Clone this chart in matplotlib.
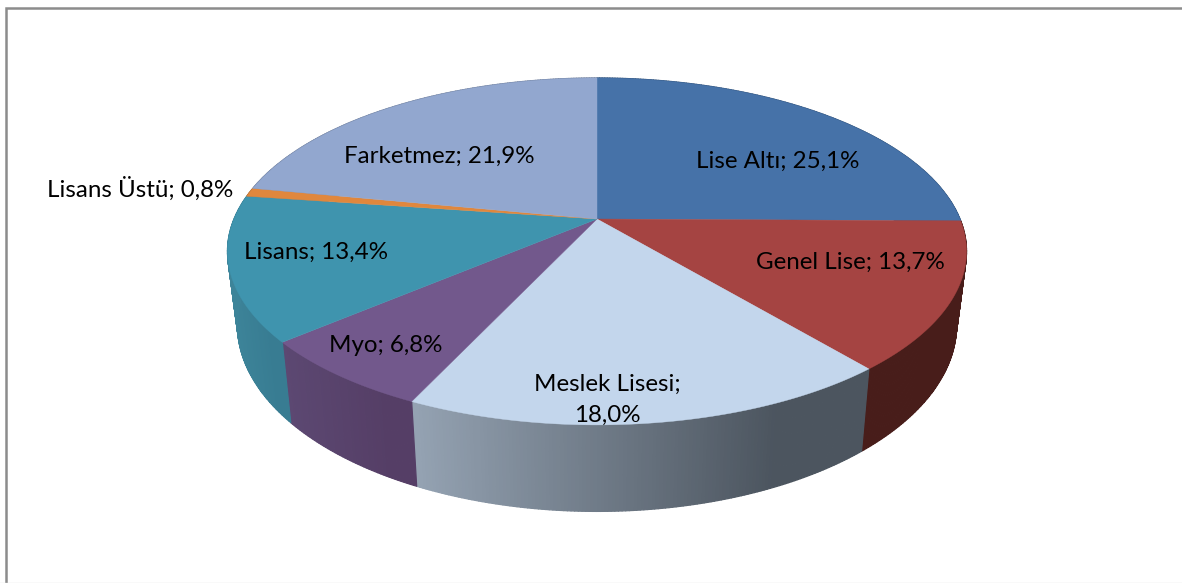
# -*- coding: utf-8 -*-
# 3D looking pie chart: top face and rim are projected with a small perspective
import numpy as np
import matplotlib
matplotlib.use('Agg')
import matplotlib.pyplot as plt
from matplotlib.collections import PolyCollection
from matplotlib.colors import to_rgb

categories = ['Lise Altı', 'Genel Lise', 'Meslek Lisesi', 'Myo', 'Lisans', 'Lisans Üstü', 'Farketmez']
values = [25.1, 13.7, 18.0, 6.8, 13.4, 0.8, 21.9]
labels = ['Lise Altı; 25,1%', 'Genel Lise; 13,7%', 'Meslek Lisesi;\n18,0%', 'Myo; 6,8%',
          'Lisans; 13,4%', 'Lisans Üstü; 0,8%', 'Farketmez; 21,9%']
top_colors = ['#4672a8', '#a54442', '#c3d6ec', '#72588c', '#3f94ae', '#e0873d', '#92a7cf']
side_left = ['#34557d', '#481d1a', '#95a3b3', '#5c4872', '#3d8499', '#a8652d', '#6d7d9b']
side_right = ['#34557d', '#481d1a', '#4c555f', '#553e66', '#387c92', '#a8652d', '#6d7d9b']
label_x = [778, 850, 607, 386, 316, 140, 439]
label_y = [161, 262, 400, 346, 252, 189, 156]

# projection settings, in pixels
cx, cy = 597, 219
rx, ry = 363, 167.4
persp = 0.187
shrink = 0.973
low_cy, low_ry = 290, 180


def project(t, lower=False):
    u, v = np.sin(t), np.cos(t)
    w = 1 + persp*v
    if lower:
        return cx + rx*shrink*u/w, low_cy - low_ry*v/w
    return cx + rx*u/w, cy - ry*v/w


fig = plt.figure(figsize=(11.82, 5.83), dpi=100)
ax = fig.add_axes([0, 0, 1, 1])
ax.set_xlim(0, 1182)
ax.set_ylim(583, 0)
ax.axis('off')

# frame of the chart area
ax.plot([6, 6, 1182], [583, 7.5, 7.5], color='#8c8c8c', lw=1.8, solid_joinstyle='miter')
ax.plot([0, 1182], [582.5, 582.5], color='#e2e2e2', lw=1)

angles = 2*np.pi*np.concatenate([[0], np.cumsum(values)])/np.sum(values)

# rim first, then the top face above it
for i in range(len(values)):
    t = np.linspace(angles[i], angles[i+1], max(int((angles[i+1]-angles[i])*120), 3))
    x_up, y_up = project(t)
    x_low, y_low = project(t, lower=True)
    x_min, x_max = x_up.min(), x_up.max()
    quads = []
    cols = []
    for j in range(len(t)-1):
        quads.append([(x_up[j], y_up[j]), (x_up[j+1], y_up[j+1]), (x_low[j+1], y_low[j+1]), (x_low[j], y_low[j])])
        # the shading reaches its darkest a bit before the right end
        f = min((x_up[j]-x_min)/(x_max-x_min)/0.8, 1)
        cols.append(np.array(to_rgb(side_left[i]))*(1-f) + np.array(to_rgb(side_right[i]))*f)
    ax.add_collection(PolyCollection(quads, facecolors=cols, edgecolors=cols, linewidths=0.9, zorder=2))

for i in range(len(values)):
    t = np.linspace(angles[i], angles[i+1], max(int((angles[i+1]-angles[i])*120), 3))
    x_up, y_up = project(t)
    ax.fill(np.r_[cx, x_up], np.r_[cy, y_up], color=top_colors[i], lw=0.3, zorder=3)

for i in range(len(labels)):
    ax.text(label_x[i], label_y[i], labels[i], family='Lato', fontsize=17.4, color='black',
            ha='center', va='center', linespacing=1.6, zorder=4)

fig.savefig('out.png', dpi=100)
